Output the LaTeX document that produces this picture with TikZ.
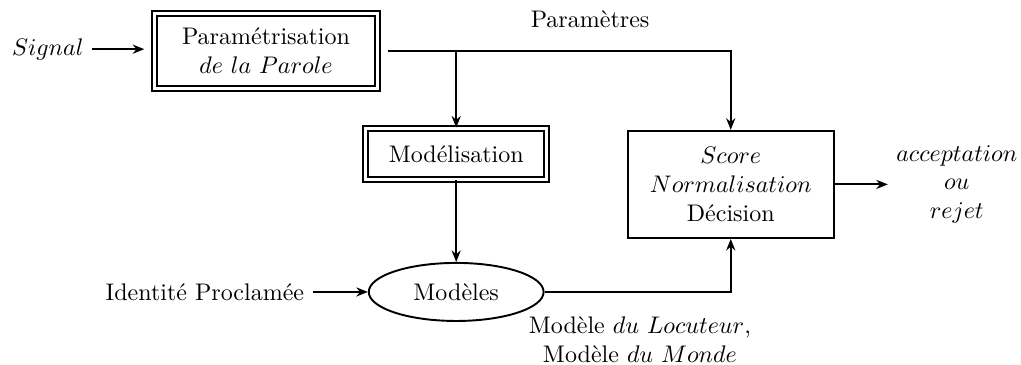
\documentclass[tikz,border=0pt]{standalone}
\usepackage{tikz}
\usetikzlibrary{arrows.meta, positioning, calc, shapes.geometric}

\begin{document}
\begin{tikzpicture}[
          dblbox/.style={rectangle, draw, line width=0.7pt,
                     double, double distance=1.4pt,
                     align=center, inner sep=0pt},
          box/.style={rectangle, draw, line width=0.8pt,
                     align=center, inner sep=0pt},
          arr/.style={line width=0.8pt,
                     -{Stealth[length=4.8pt, width=3.8pt]}},
      ]
      \useasboundingbox (0,0) rectangle (14.95,-5.344);

      % blocks
      \node[dblbox, minimum width=3.26cm, minimum height=1.10cm]
          (param) at (3.895, -0.747)
          {Paramétrisation\\ $de\ la\ Parole$};
      \node[dblbox, minimum width=2.65cm, minimum height=0.75cm]
          (model) at (6.68, -2.255) {Modélisation};
      \node[ellipse, draw, line width=0.8pt, inner sep=0pt,
            minimum width=2.56cm, minimum height=0.85cm]
          (modeles) at (6.68, -4.275) {Modèles};
      \node[box, minimum width=3.02cm, minimum height=1.57cm]
          (score) at (10.70, -2.70)
          {$Score$\\ $Normalisation$\\ Décision};

      % inputs and outputs
      \node (signal) at (0.70, -0.72) {$Signal$};
      \node (ident) at (3.0, -4.275) {Identité Proclamée};
      \node[align=center] (decision) at (14.01, -2.70)
          {$acceptation$\\ $ou$\\ $rejet$};

      % labels
      \node (params) at (8.64, -0.28) {Paramètres};
      \node[align=center] (models) at (9.37, -4.98)
          {Modèle $du$ $Locuteur$,\\ Modèle $du$ $Monde$};

      % connectors
      \draw[arr] (signal.east) -- ([xshift=-4pt]signal.east -| param.west);
      \draw[arr] ([xshift=4pt]param.east) -| (score.north);
      \draw[arr] (param.east -| model.north) -- (model.north);
      \draw[arr] (model.south) -- (modeles.north);
      \draw[arr] (ident) -- (modeles.west);
      \draw[arr] (modeles.east) -| (score.south);
      \draw[arr] (score.east) -- (decision.west);
      \end{tikzpicture}
\end{document}
